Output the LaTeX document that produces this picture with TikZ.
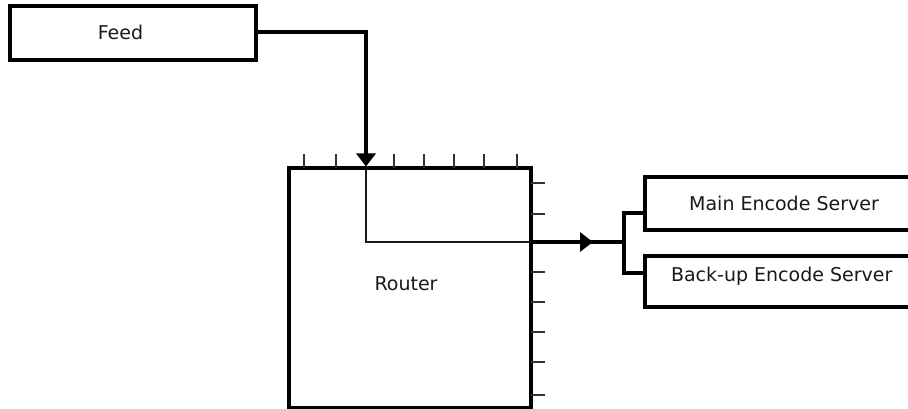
\documentclass[tikz,border=0pt]{standalone}
\usepackage{fontspec}
\setmainfont{DejaVu Sans}
\usetikzlibrary{arrows.meta}
\begin{document}
\begin{tikzpicture}[x=1pt,y=-1pt,
  box/.style={draw=black,line width=3.2pt,fill=white,rectangle,inner sep=0pt},
  lbl/.style={anchor=base,inner sep=0pt,text=black!90,font=\fontsize{19}{22}\selectfont},
  conn/.style={line width=3.2pt,black},
  thin/.style={line width=1.4pt,black!90},
  tick/.style={line width=1.8pt,black!80},
  tip/.style={-{Triangle[width=19pt,length=13pt]}}
]
\useasboundingbox (0,0) rectangle (908,409);
\clip (0,0) rectangle (908,409);
\fill[white] (0,0) rectangle (908,409);

% boxes
\node[box,minimum width=246pt,minimum height=54pt] (feed) at (133,33) {};
\node[box,minimum width=242pt,minimum height=240pt] (router) at (410,288) {};
\node[box,minimum width=290pt,minimum height=53pt] (main) at (790,203.5) {};
\node[box,minimum width=290pt,minimum height=51pt] (backup) at (790,281.5) {};

% labels
\node[lbl] (feedlbl) at (120.5,39.3) {Feed};
\node[lbl] (routerlbl) at (406,290) {Router};
\node[lbl] (mainlbl) at (784,210.7) {Main Encode Server};
\node[lbl] (backuplbl) at (781.7,281.7) {Back-up Encode Server};

% ticks on router
\foreach \tx in {304,336,394,424,454,484,517}
  \draw[tick] (\tx,168) -- (\tx,154);
\foreach \ty in {183,214,272,302,332,362,395}
  \draw[tick] (531,\ty) -- (545,\ty);

% coordinates
\coordinate (inport) at (366,166.5);
\coordinate (outport) at (531,242);
\coordinate (arrowtip) at (593,242);
\coordinate (fork) at (624,242);
\coordinate (mainin) at (645,213);
\coordinate (backupin) at (645,273);

% feed -> router
\draw[conn,tip] (feed.east |- 0,32) -| (inport);
% internal route
\draw[thin] (366,170) |- (outport);
% router -> servers
\draw[conn] (outport) -- (fork);
\draw[conn,tip] (outport) -- (arrowtip);
\draw[conn] (fork) |- (mainin);
\draw[conn] (fork) |- (backupin);
\end{tikzpicture}
\end{document}
